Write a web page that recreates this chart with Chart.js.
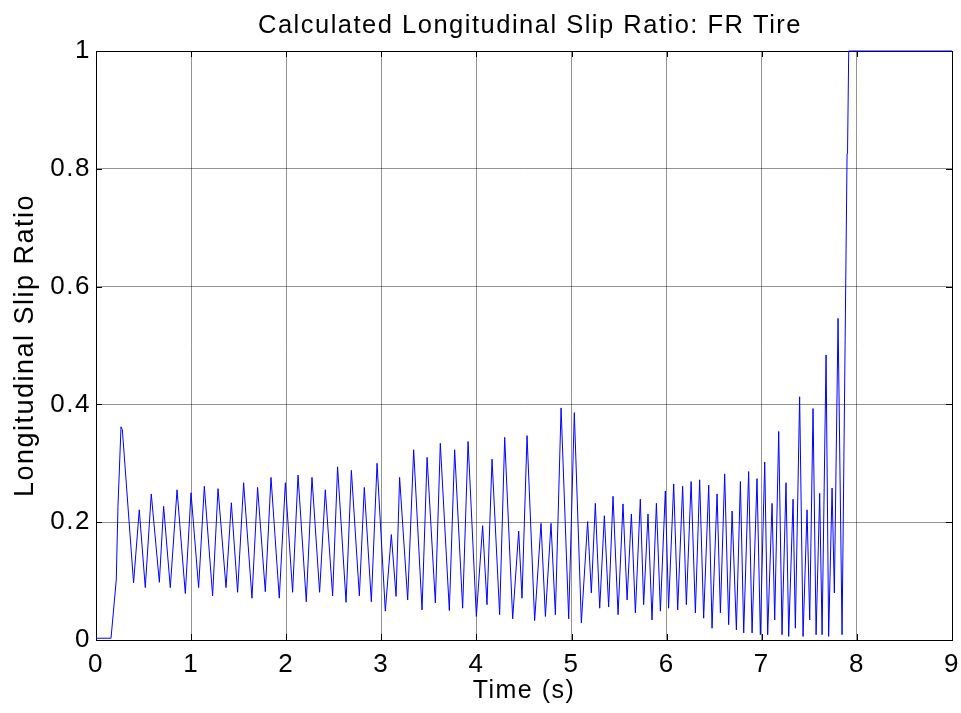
<!DOCTYPE html>
<html>
<head>
<meta charset="utf-8">
<script src="https://cdn.jsdelivr.net/npm/chart.js@4/dist/chart.umd.min.js"></script>
<style>
  html, body { margin: 0; padding: 0; background: #ffffff; }
  #wrap { width: 961px; height: 713px; }
</style>
</head>
<body>
<div id="wrap"><canvas id="c" width="961" height="713"></canvas></div>
<script>
// ---- data ----
const chartTitle = 'Calculated Longitudinal Slip Ratio: FR Tire';
const xAxisLabel = 'Time (s)';
const yAxisLabel = 'Longitudinal Slip Ratio';
const xTicks = [0, 1, 2, 3, 4, 5, 6, 7, 8, 9];
const yTicks = [0, 0.2, 0.4, 0.6, 0.8, 1];

const timeS = [
  0, 0.158, 0.213, 0.231, 0.263, 0.277, 0.395, 0.455, 0.518, 0.581,
  0.666, 0.711, 0.781, 0.852, 0.939, 0.999, 1.079, 1.139, 1.226, 1.283,
  1.367, 1.423, 1.489, 1.552, 1.640, 1.699, 1.780, 1.840, 1.927, 1.991,
  2.067, 2.124, 2.211, 2.271, 2.351, 2.411, 2.488, 2.540, 2.629, 2.685,
  2.769, 2.821, 2.895, 2.955, 3.042, 3.105, 3.155, 3.192, 3.277, 3.340,
  3.428, 3.481, 3.568, 3.620, 3.715, 3.771, 3.855, 3.912, 3.999, 4.065,
  4.111, 4.164, 4.244, 4.297, 4.381, 4.444, 4.479, 4.532, 4.612, 4.679,
  4.725, 4.784, 4.830, 4.890, 4.970, 5.029, 5.103, 5.169, 5.208, 5.250,
  5.296, 5.345, 5.390, 5.436, 5.489, 5.541, 5.584, 5.629, 5.671, 5.723,
  5.758, 5.804, 5.846, 5.892, 5.934, 5.986, 6.020, 6.074, 6.116, 6.168,
  6.207, 6.257, 6.302, 6.347, 6.389, 6.442, 6.477, 6.530, 6.565, 6.610,
  6.652, 6.688, 6.733, 6.775, 6.810, 6.862, 6.898, 6.950, 6.985, 7.031,
  7.062, 7.108, 7.136, 7.178, 7.213, 7.255, 7.283, 7.329, 7.353, 7.398,
  7.434, 7.476, 7.504, 7.539, 7.571, 7.609, 7.634, 7.676, 7.703, 7.739,
  7.763, 7.802, 7.844, 7.897, 7.902, 7.914, 9.0
];

const slipRatio = [
  0.003, 0.003, 0.102, 0.227, 0.362, 0.357, 0.097, 0.221, 0.089, 0.248,
  0.098, 0.227, 0.089, 0.255, 0.079, 0.250, 0.089, 0.261, 0.075, 0.257,
  0.089, 0.233, 0.081, 0.267, 0.071, 0.259, 0.082, 0.276, 0.071, 0.267,
  0.081, 0.280, 0.065, 0.276, 0.081, 0.255, 0.075, 0.294, 0.064, 0.288,
  0.075, 0.259, 0.065, 0.300, 0.049, 0.179, 0.074, 0.276, 0.068, 0.323,
  0.051, 0.310, 0.063, 0.334, 0.050, 0.323, 0.054, 0.337, 0.040, 0.194,
  0.060, 0.307, 0.043, 0.344, 0.036, 0.185, 0.071, 0.347, 0.033, 0.198,
  0.040, 0.198, 0.043, 0.394, 0.036, 0.386, 0.029, 0.201, 0.080, 0.232,
  0.054, 0.211, 0.056, 0.244, 0.043, 0.231, 0.068, 0.214, 0.046, 0.239,
  0.060, 0.214, 0.034, 0.232, 0.049, 0.253, 0.054, 0.265, 0.051, 0.261,
  0.060, 0.269, 0.046, 0.272, 0.037, 0.263, 0.020, 0.248, 0.046, 0.282,
  0.026, 0.219, 0.017, 0.269, 0.012, 0.286, 0.012, 0.274, 0.009, 0.302,
  0.009, 0.232, 0.034, 0.354, 0.009, 0.267, 0.006, 0.239, 0.020, 0.413,
  0.006, 0.221, 0.034, 0.393, 0.009, 0.249, 0.009, 0.484, 0.006, 0.258,
  0.080, 0.546, 0.009, 0.826, 0.832, 1.0, 1.0
];

// ---- chart ----
const FONT = "'Liberation Sans', Arial, Helvetica, sans-serif";
const SPACING = '1.5px';
const points = timeS.map((t, i) => ({ x: t, y: slipRatio[i] }));

const wideText = {
  id: 'wideText',
  beforeLayout(chart) { chart.ctx.letterSpacing = SPACING; },
  beforeDraw(chart) { chart.ctx.letterSpacing = SPACING; }
};

const boxAndTicks = {
  id: 'boxAndTicks',
  beforeDatasetsDraw(chart) {
    const { ctx, chartArea: a, scales } = chart;
    ctx.save();
    ctx.strokeStyle = '#000000';
    ctx.lineWidth = 1;
    const L = 6;
    ctx.beginPath();
    xTicks.forEach(v => {
      const px = Math.round(scales.x.getPixelForValue(v)) + 0.5;
      ctx.moveTo(px, a.bottom); ctx.lineTo(px, a.bottom - L);
      ctx.moveTo(px, a.top); ctx.lineTo(px, a.top + L);
    });
    yTicks.forEach(v => {
      const py = Math.round(scales.y.getPixelForValue(v)) + 0.5;
      ctx.moveTo(a.left, py); ctx.lineTo(a.left + L, py);
      ctx.moveTo(a.right, py); ctx.lineTo(a.right - L, py);
    });
    ctx.stroke();
    ctx.strokeRect(Math.round(a.left) + 0.5, Math.round(a.top) + 0.5,
                   Math.round(a.right - a.left), Math.round(a.bottom - a.top));
    // title centred over the plot area
    ctx.fillStyle = '#000000';
    ctx.font = "25.5px " + FONT;
    ctx.letterSpacing = SPACING;
    ctx.textAlign = 'center';
    ctx.textBaseline = 'alphabetic';
    ctx.fillText(chartTitle, (a.left + a.right) / 2 + 6, a.top - 18);
    ctx.restore();
  }
};

new Chart(document.getElementById('c'), {
  type: 'line',
  data: {
    datasets: [{
      data: points,
      borderColor: '#0000ff',
      borderWidth: 1,
      pointRadius: 0,
      tension: 0,
      fill: false,
      clip: 3
    }]
  },
  options: {
    responsive: false,
    animation: false,
    devicePixelRatio: 1,
    layout: { padding: { left: 0, right: 9, top: 51, bottom: 0 } },
    plugins: {
      legend: { display: false },
      tooltip: { enabled: false },
      title: { display: false }
    },
    scales: {
      x: {
        type: 'linear',
        min: 0, max: 9,
        afterBuildTicks: s => { s.ticks = xTicks.map(v => ({ value: v })); },
        afterFit: s => { s.height = 73; s.paddingLeft = 0; s.paddingRight = 0; },
        grid: { color: 'rgba(0,0,0,0.42)', lineWidth: 1, drawTicks: false },
        border: { display: true, color: '#000000', width: 1 },
        ticks: {
          color: '#000000',
          font: { family: FONT, size: 26 },
          padding: 9,
          maxRotation: 0,
          callback: v => String(v)
        },
        title: {
          display: true,
          text: xAxisLabel,
          color: '#000000',
          font: { family: FONT, size: 25 },
          padding: { top: 0, bottom: 7 }
        }
      },
      y: {
        type: 'linear',
        min: 0, max: 1,
        afterBuildTicks: s => { s.ticks = yTicks.map(v => ({ value: v })); },
        afterFit: s => { s.width = 96; s.paddingTop = 0; s.paddingBottom = 0; },
        grid: { color: 'rgba(0,0,0,0.42)', lineWidth: 1, drawTicks: false },
        border: { display: true, color: '#000000', width: 1 },
        ticks: {
          color: '#000000',
          font: { family: FONT, size: 26 },
          padding: 5,
          callback: v => String(+v.toFixed(1))
        },
        title: {
          display: true,
          text: yAxisLabel,
          color: '#000000',
          font: { family: FONT, size: 27 },
          padding: { top: 9, bottom: 0 }
        }
      }
    }
  },
  plugins: [wideText, boxAndTicks]
});
</script>
</body>
</html>
